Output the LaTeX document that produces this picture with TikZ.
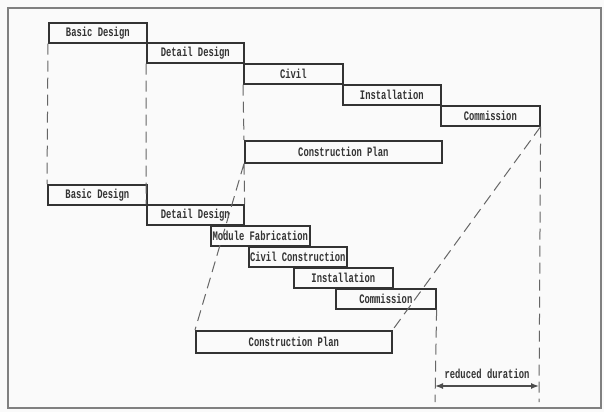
\documentclass[tikz,border=0pt]{standalone}
\usepackage{fontspec}
\usetikzlibrary{arrows.meta}
\newfontfamily\chartfont[FakeStretch=0.68]{Liberation Mono}
\tikzset{
	task/.style={draw=black!80,line width=1.6pt,anchor=north west,inner sep=0pt,
		minimum height=20pt,font=\chartfont\bfseries\fontsize{13}{14}\selectfont,text=black!80},
	guide/.style={draw=black!60,line width=1pt,dash pattern=on 11pt off 6pt}
}
\begin{document}
\begin{tikzpicture}[x=1pt,y=-1pt]
		\useasboundingbox (0,0) rectangle (604,412);
		\fill[black!2] (0,0) rectangle (604,412);
		\draw[black!50,line width=2.5pt] (8,8) rectangle (601,408);
		\foreach \n/\x/\y/\w/\t in {bdA/48/22/98/Basic Design,ddA/146/42/97/Detail Design,
			cvA/243/63/99/Civil,inA/342/84/98/Installation,cmA/440/105/99/Commission,
			bdB/47/184/99/Basic Design,ddB/146/204/97/Detail Design,
			mfB/210/225/99/Module Fabrication,ccB/248/246/98/Civil Construction,
			inB/293/267/99/Installation,cmB/335/288/100/Commission}
		\node[task,minimum width=\w] (\n) at (\x,\y) {\t};
		\node[task,minimum width=197,minimum height=22] (cpA) at (244,140) {Construction Plan};
		\node[task,minimum width=196,minimum height=22] (cpB) at (195,330) {Construction Plan};
		\path
		(435,402) coordinate (L)
		(539,402) coordinate (R)
		(435,386) coordinate (La)
		(539,386) coordinate (Ra);
		\draw[guide] (bdA.south west)--(bdB.north west)
		(ddA.south west)--(ddB.north west)
		(cvA.south west)--(cpA.north west)
		(cpA.south west)--(ddB.north east)
		(cpA.south west)--(cpB.north west)
		(cmA.south east)--(cpB.north east)
		(cmA.south east)--(R)
		(cmB.south east)--(L);
		\draw[black!70,line width=1.4pt,{Latex[length=8pt,width=6pt]}-{Latex[length=8pt,width=6pt]}] (La)--(Ra)
		node[midway,above=3pt,font=\chartfont\bfseries\fontsize{13}{14}\selectfont,text=black!80] (red) {reduced duration};
	\end{tikzpicture}
\end{document}
